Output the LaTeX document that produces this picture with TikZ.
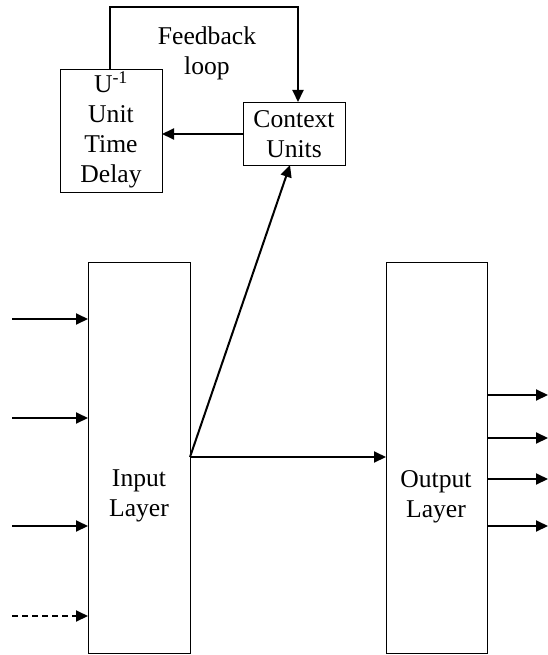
\documentclass[tikz,border=0pt]{standalone}
\usepackage{fontspec}
\setmainfont{Liberation Serif}
\usetikzlibrary{arrows.meta}
\begin{document}
\begin{tikzpicture}[x=1pt,y=-1pt,
  box/.style={draw,line width=1pt},
  lbl/.style={align=center,font=\fontsize{25.6}{30}\selectfont,inner sep=0pt},
  arr/.style={line width=2pt,-{Triangle[length=12pt,width=11pt]}},
  ln/.style={line width=2pt}]
\useasboundingbox (0,0) rectangle (548,655);
% boxes
\node[box,minimum width=102pt,minimum height=123pt,anchor=north west] (delay) at (60,69) {};
\node[box,minimum width=102pt,minimum height=63pt,anchor=north west] (ctx) at (243,102) {};
\node[box,minimum width=102pt,minimum height=391pt,anchor=north west] (inp) at (88,262) {};
\node[box,minimum width=101pt,minimum height=391pt,anchor=north west] (out) at (386,262) {};
% texts
\node[lbl] (tdelay) at (111,130) {U\textsuperscript{-1}\\Unit\\Time\\Delay};
\node[lbl] (tctx) at (294,134) {Context\\Units};
\node[lbl] (tinp) at (139,496) {Input\\Layer};
\node[lbl] (tout) at (436,497) {Output\\Layer};
\node[lbl] (tfb) at (207,53) {Feedback\\loop};
% feedback loop
\coordinate (f1) at (110,69);
\coordinate (f2) at (110,7);
\coordinate (f3) at (298,7);
\coordinate (f4) at (298,102);
\draw[arr] (f1) -- (f2) -- (f3) -- (f4);
\coordinate (c1) at (243,134);
\coordinate (c2) at (162,134);
\draw[arr] (c1) -- (c2);
% input to context / output
\coordinate (j) at (190,457);
\coordinate (ct) at (290,165);
\coordinate (ol) at (386,457);
\draw[arr] (j) -- (ct);
\draw[arr] (j) -- (ol);
% inputs
\foreach \y/\n in {319/a,418/b,526/c}{
  \coordinate (s\n) at (12,\y);
  \coordinate (e\n) at (88,\y);
  \draw[arr] (s\n) -- (e\n);
}
\coordinate (sd) at (12,616);
\coordinate (ed) at (88,616);
\draw[arr,dash pattern=on 6pt off 4pt] (sd) -- (ed);
% outputs
\foreach \y/\n in {395/a,438/b,479/c,526/d}{
  \coordinate (os\n) at (487,\y);
  \coordinate (oe\n) at (548,\y);
  \draw[arr] (os\n) -- (oe\n);
}
\end{tikzpicture}
\end{document}
